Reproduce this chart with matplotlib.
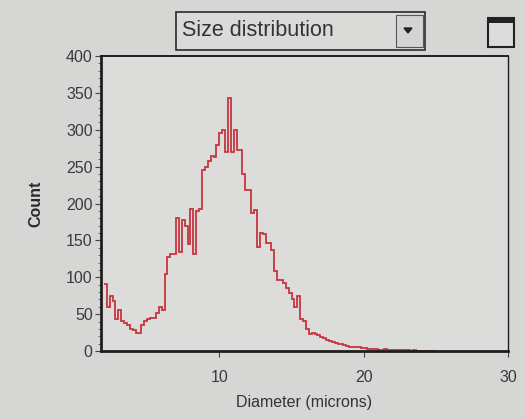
import numpy as np
import matplotlib
matplotlib.use("Agg")
import matplotlib.pyplot as plt
from matplotlib.patches import Rectangle, Polygon

plt.rcParams["font.family"] = ["Liberation Sans", "DejaVu Sans"]

# ---- data ----
bin_start = 2.0
bin_width = 0.2
counts = [
    91, 60, 75, 68, 44, 55, 41, 38, 35, 30,      # 2.0 - 3.8
    28, 25, 25, 35, 41, 43, 45, 45, 52, 59,      # 4.0 - 5.8
    55, 105, 127, 132, 132, 181, 134, 177, 170, 145,  # 6.0 - 7.8
    193, 132, 190, 192, 245, 249, 258, 265, 263, 280,  # 8.0 - 9.8
    295, 300, 270, 343, 270, 300, 272, 272, 240, 218,  # 10.0 - 11.8
    218, 187, 191, 141, 160, 158, 146, 146, 137, 109,  # 12.0 - 13.8
    96, 96, 92, 85, 78, 71, 59, 75, 44, 41,           # 14.0 - 15.8
    30, 23, 25, 23, 22, 19, 18, 15, 13, 12,           # 16.0 - 17.8
    11, 10, 9, 8, 7, 6, 6, 5, 5, 4,                  # 18.0 - 19.8
    4, 3, 3, 3, 3, 2, 2, 3, 2, 2,                    # 20.0 - 21.8
    1, 1, 1, 1, 1, 1, 0, 1, 0, 0,                    # 22.0 - 23.8
    0, 0, 0, 0, 0,                                   # 24.0 - 24.8
]
x_ticks = [10, 20, 30]
y_ticks = [0, 50, 100, 150, 200, 250, 300, 350, 400]
x_label = "Diameter (microns)"
y_label = "Count"
selector_text = "Size distribution"

W, H = 526, 419
bg = "#d6d6d4"
fig = plt.figure(figsize=(W / 100, H / 100), dpi=100, facecolor=bg)

ax = fig.add_axes([101 / W, 1 - 351 / H, (508 - 101) / W, (351 - 56) / H])
ax.set_facecolor("#dcdcda")

edges = bin_start + bin_width * np.arange(len(counts) + 1)
ax.stairs(counts, edges, baseline=None, color="#c8353e", linewidth=1.3)

ax.set_xlim(1.8, 30)
ax.set_ylim(0, 400)
ax.set_xticks(x_ticks)
ax.set_yticks(y_ticks)
ax.set_yticks(np.arange(0, 401, 10), minor=True)
ax.tick_params(axis="y", which="minor", length=2, width=0.6, color="#555555")
ax.tick_params(axis="both", which="major", direction="out", length=4, width=0.8,
               color="#444444", labelsize=11.5, labelcolor="#3a3a3a")
ax.tick_params(axis="x", which="major", pad=10)
ax.tick_params(axis="y", which="major", pad=2)
for side, lw in (("left", 2.0), ("bottom", 2.0), ("top", 1.4), ("right", 1.0)):
    ax.spines[side].set_color("#1e1e1e")
    ax.spines[side].set_linewidth(lw)

ax.set_xlabel(x_label, fontsize=11.5, color="#333333", labelpad=7)
ax.set_ylabel(y_label, fontsize=11.5, color="#2a2a2a", labelpad=16,
              fontweight="bold")

# ---- selector widget ----
def fx(px):
    return px / W

def fy(py):
    return 1 - py / H

box = Rectangle((fx(176), fy(50)), fx(425) - fx(176), fy(12) - fy(50),
                transform=fig.transFigure, facecolor="#dadad8",
                edgecolor="#2a2a2a", linewidth=1.2)
fig.patches.append(box)
btn = Rectangle((fx(396), fy(47)), fx(423) - fx(396), fy(15) - fy(47),
                transform=fig.transFigure, facecolor="#d4d4d2",
                edgecolor="#555555", linewidth=0.8)
fig.patches.append(btn)
tri = Polygon([[fx(404), fy(28)], [fx(412), fy(28)], [fx(408), fy(33)]],
              closed=True, transform=fig.transFigure, facecolor="#222222",
              edgecolor="#222222")
fig.patches.append(tri)
fig.text(fx(182), fy(31), selector_text, fontsize=15.5, color="#333333",
         va="center", ha="left")

icon = Rectangle((fx(488), fy(47)), fx(514) - fx(488), fy(18) - fy(47),
                 transform=fig.transFigure, facecolor="#dcdcda",
                 edgecolor="#222222", linewidth=1.5)
fig.patches.append(icon)
bar = Rectangle((fx(488), fy(23)), fx(514) - fx(488), fy(18) - fy(23),
                transform=fig.transFigure, facecolor="#222222",
                edgecolor="none")
fig.patches.append(bar)

fig.savefig("out.png", dpi=100, facecolor=bg)
